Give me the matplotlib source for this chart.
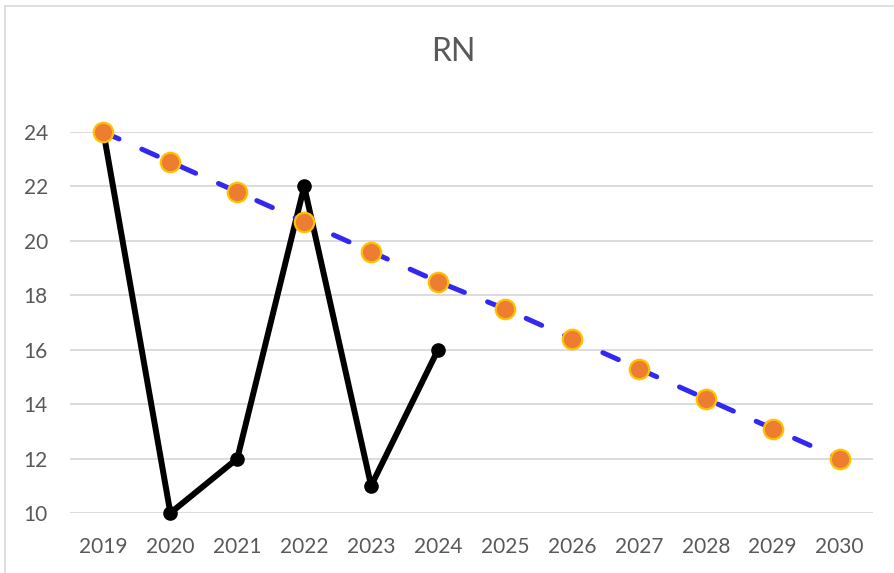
import matplotlib
matplotlib.use("Agg")
import matplotlib.pyplot as plt
from matplotlib.lines import Line2D

years = ["2019", "2020", "2021", "2022", "2023", "2024", "2025", "2026", "2027", "2028", "2029", "2030"]
actual = [24, 10, 12, 22, 11, 16]
target = [24, 22.9, 21.8, 20.7, 19.6, 18.5, 17.5, 16.4, 15.3, 14.2, 13.1, 12]
yticks = [10, 12, 14, 16, 18, 20, 22, 24]
title = "RN"

plt.rcParams['font.family'] = ['Lato', 'DejaVu Sans']
W, H = 895, 573
fig = plt.figure(figsize=(W / 100, H / 100), dpi=100)
fig.patch.set_facecolor("white")

left, right, bottom, top = 70, 873, 513, 132
ax = fig.add_axes([left / W, 1 - bottom / H, (right - left) / W, (bottom - top) / H])

xs = list(range(len(years)))
ax.plot(xs[:len(actual)], actual, color="black", lw=4.3, marker="o", ms=9.5,
        solid_joinstyle="round", solid_capstyle="round", zorder=3, clip_on=False)
ax.plot(xs, target, color="#3328F0", lw=3.6, dashes=(3.4, 5), dash_capstyle="round",
        zorder=4, clip_on=False)
ax.plot(xs, target, ls="none", marker="o", ms=14, mfc="#ED7D31", mec="#FFC000",
        mew=1.6, zorder=5, clip_on=False)

ax.set_xlim(-0.5, len(years) - 0.5)
ax.set_ylim(10, 24)
ax.set_xticks(xs)
ax.set_xticklabels(years)
ax.set_yticks(yticks)
ax.set_yticklabels([str(v) for v in yticks])
ax.tick_params(axis="both", length=0, labelsize=15, labelcolor="#595959")
ax.tick_params(axis="x", pad=17)
ax.tick_params(axis="y", pad=16)
ax.grid(axis="y", color="#D9D9D9", lw=1.3)
ax.set_axisbelow(True)
for s in ax.spines.values():
    s.set_visible(False)

fig.text(453 / W, 1 - 52 / H, title, ha="center", va="center", fontsize=23, color="#595959")

# chart border (left and top visible)
fig.add_artist(Line2D([5.5 / W, 5.5 / W], [0, 1 - 6 / H], color="#D9D9D9", lw=1.2, transform=fig.transFigure))
fig.add_artist(Line2D([5.5 / W, 1], [1 - 6 / H, 1 - 6 / H], color="#D9D9D9", lw=1.2, transform=fig.transFigure))

fig.savefig("out.png", dpi=100)
